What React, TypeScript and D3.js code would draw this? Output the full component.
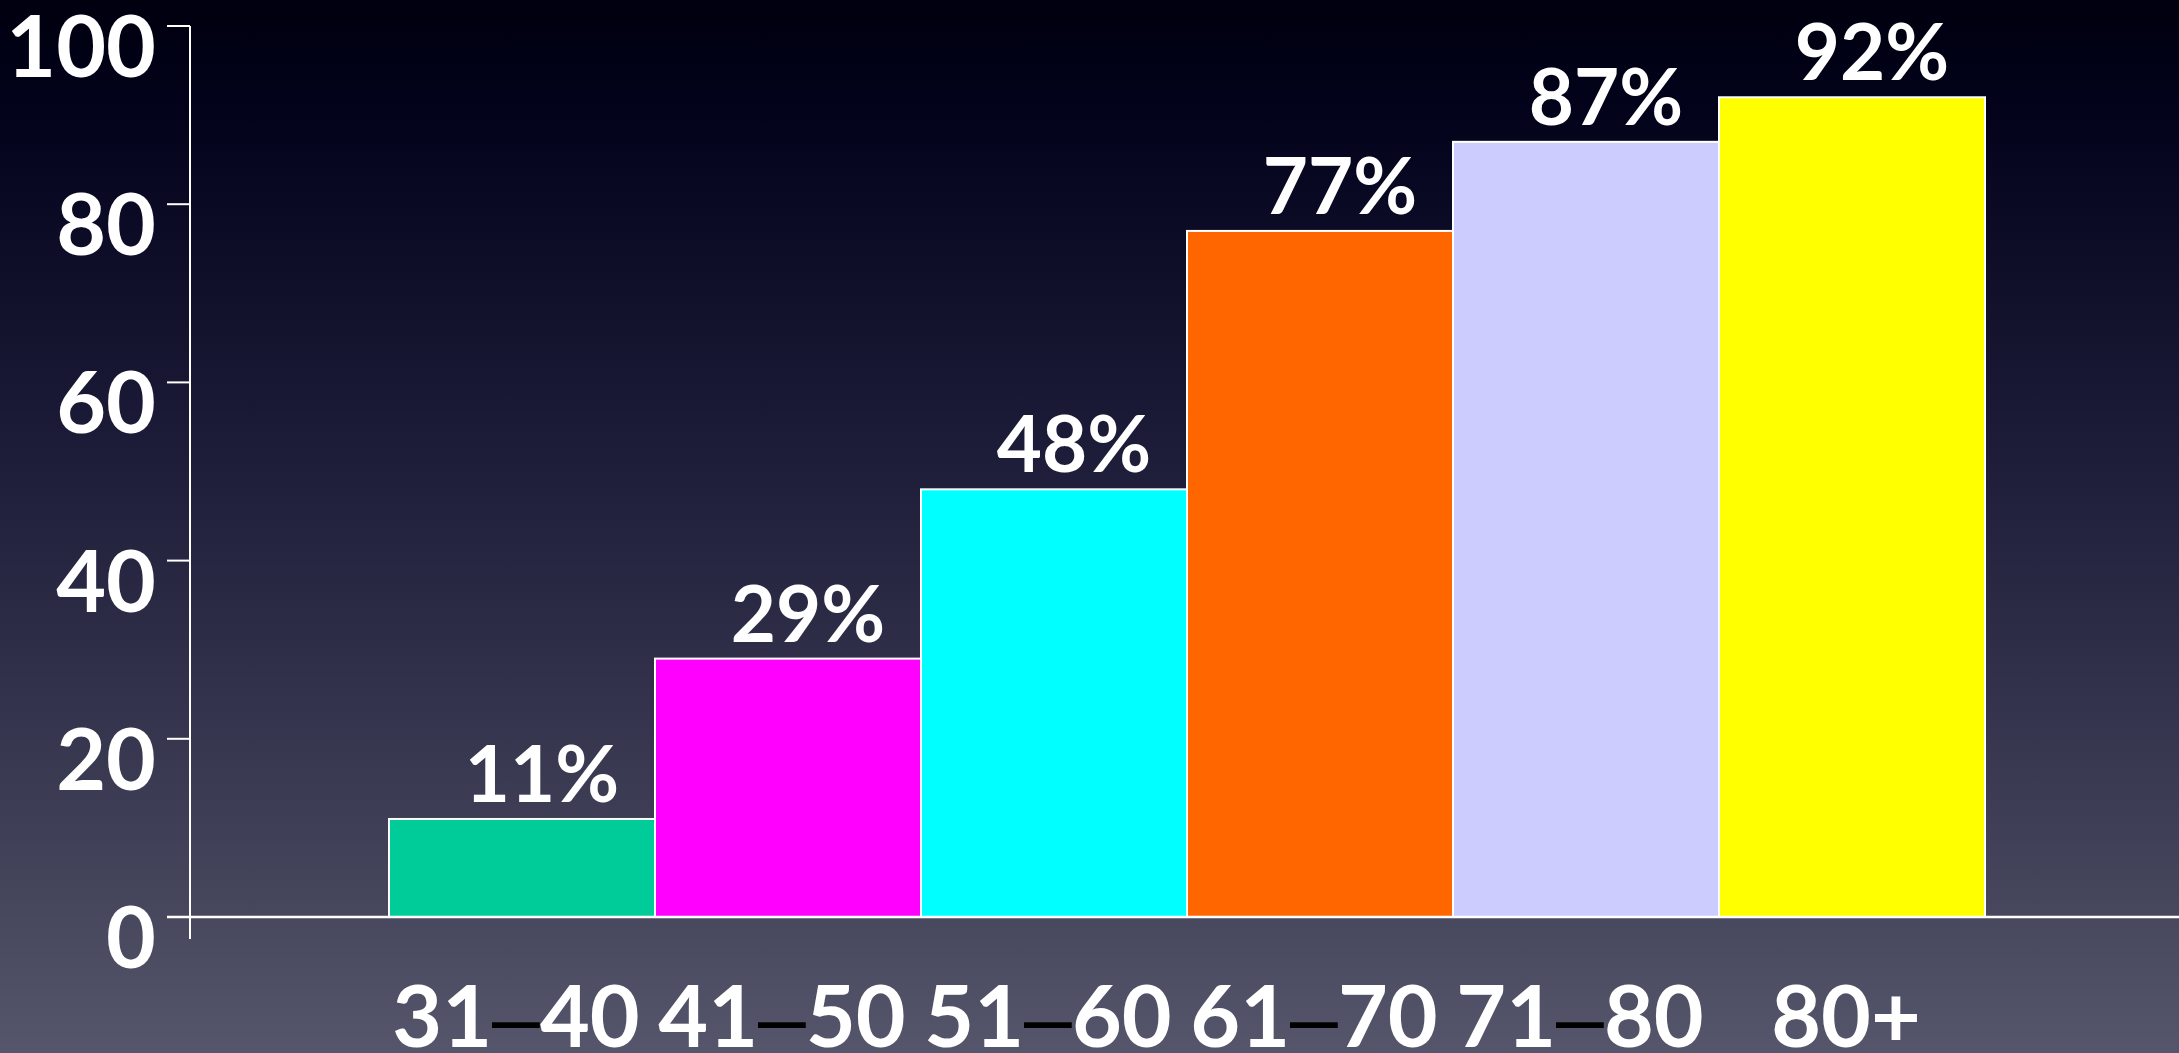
import React from "react";
import * as d3 from "d3";

const categories = ["31–40", "41–50", "51–60", "61–70", "71–80", "80+"];
const values = [11, 29, 48, 77, 87, 92];
const barColors = ["#00CC99", "#FF00FF", "#00FFFF", "#FF6600", "#CCCCFF", "#FFFF00"];
const yTicks = [0, 20, 40, 60, 80, 100];

const W = 2179;
const H = 1053;
const FONT = "Lato, 'Open Sans', sans-serif";

export default function App() {
  const x = d3.scaleBand<string>().domain(categories).range([389, 1985]).padding(0);
  const y = d3.scaleLinear().domain([0, 100]).range([917, 26]);
  const axisX = 190;
  const y0 = y(0);

  return (
    <svg
      width={W}
      height={H}
      viewBox={`0 0 ${W} ${H}`}
      style={{ position: "absolute", left: 0, top: 0, display: "block" }}
    >
      <defs>
        <linearGradient id="bg" x1="0" y1="0" x2="0" y2="1">
          <stop offset="0" stopColor="#00000f" />
          <stop offset="0.1" stopColor="#02021b" />
          <stop offset="0.4" stopColor="#1a1a36" />
          <stop offset="0.6" stopColor="#2c2c47" />
          <stop offset="0.85" stopColor="#45455c" />
          <stop offset="1" stopColor="#55556b" />
        </linearGradient>
      </defs>
      <rect x={0} y={0} width={W} height={H} fill="url(#bg)" />

      {/* bars */}
      {categories.map((c, i) => (
        <rect
          key={c}
          x={x(c)}
          y={y(values[i])}
          width={x.bandwidth()}
          height={y0 - y(values[i])}
          fill={barColors[i]}
          stroke="#ffffff"
          strokeWidth={2}
        />
      ))}

      {/* value labels */}
      {categories.map((c, i) => (
        <text
          key={"v" + c}
          x={(x(c) as number) + x.bandwidth() / 2 + 20}
          y={y(values[i]) - 17}
          textAnchor="middle"
          fill="#ffffff"
          fontFamily={FONT}
          fontWeight={700}
          fontSize={78}
        >
          {values[i] + "%"}
        </text>
      ))}

      {/* axes */}
      <line x1={axisX} x2={axisX} y1={y(100)} y2={y0 + 22} stroke="#ffffff" strokeWidth={2} />
      <line x1={167} x2={W} y1={y0} y2={y0} stroke="#ffffff" strokeWidth={2.5} />
      {yTicks.map((t) => (
        <g key={"t" + t}>
          <line x1={167} x2={axisX} y1={y(t)} y2={y(t)} stroke="#ffffff" strokeWidth={2} />
          <text
            x={156}
            y={y(t) + 51}
            textAnchor="end"
            fill="#ffffff"
            fontFamily={FONT}
            fontWeight={700}
            fontSize={86}
          >
            {t}
          </text>
        </g>
      ))}

      {/* category labels */}
      {categories.map((c) => {
        const parts = c.split("–");
        return (
          <text
            key={"c" + c}
            x={(x(c) as number) + x.bandwidth() / 2 - 6}
            y={1047}
            textAnchor="middle"
            fill="#ffffff"
            fontFamily={FONT}
            fontWeight={700}
            fontSize={86}
          >
            {parts.length === 2 ? (
              <>
                <tspan>{parts[0]}</tspan>
                <tspan fill="#000000" fontFamily="'Liberation Sans', Arial, sans-serif" fontWeight={400}>
                  –
                </tspan>
                <tspan>{parts[1]}</tspan>
              </>
            ) : (
              c
            )}
          </text>
        );
      })}
    </svg>
  );
}
